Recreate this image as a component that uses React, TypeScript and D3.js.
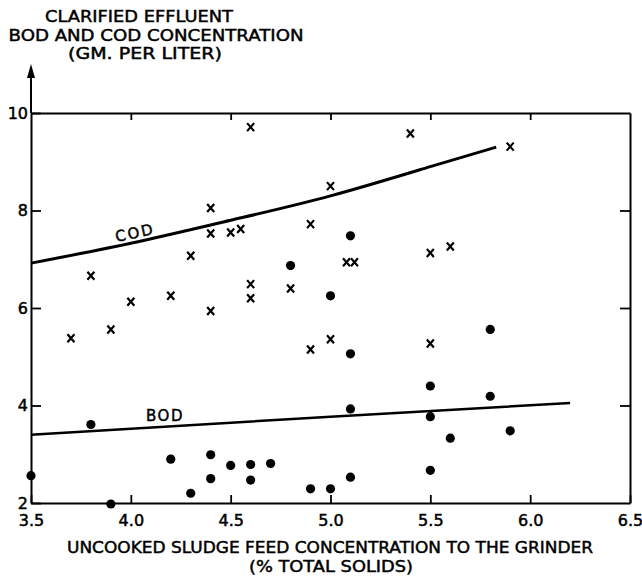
import { useEffect, useRef } from "react";
import * as d3 from "d3";

// feed concentration (% total solids) vs clarified effluent concentration (gm/l)
const codX = [3.7, 3.8, 3.9, 4.0, 4.2, 4.3, 4.4, 4.4, 4.4, 4.5, 4.55, 4.6, 4.6, 4.6, 4.8, 4.9, 4.9, 5.0, 5.0, 5.08, 5.12, 5.4, 5.5, 5.5, 5.6, 5.9];
const codY = [5.38, 6.66, 5.56, 6.13, 6.25, 7.07, 8.05, 7.53, 5.94, 7.55, 7.62, 9.71, 6.49, 6.2, 6.4, 7.72, 5.15, 8.5, 5.36, 6.94, 6.94, 9.58, 7.13, 5.27, 7.26, 9.31];

const bodX = [3.5, 3.8, 3.9, 4.2, 4.3, 4.4, 4.4, 4.5, 4.6, 4.6, 4.7, 4.8, 4.9, 5.0, 5.0, 5.1, 5.1, 5.1, 5.1, 5.5, 5.5, 5.5, 5.6, 5.8, 5.8, 5.9];
const bodY = [2.56, 3.61, 1.98, 2.9, 2.2, 2.99, 2.5, 2.77, 2.79, 2.47, 2.81, 6.87, 2.29, 6.25, 2.29, 7.48, 5.06, 3.93, 2.53, 4.4, 3.77, 2.67, 3.33, 5.56, 4.19, 3.48];

// fitted curves
const codCurveX = [3.5, 4.0, 4.5, 5.0, 5.5, 5.83];
const codCurveY = [6.92, 7.33, 7.8, 8.3, 8.9, 9.3];
const bodCurveX = [3.5, 5.0, 6.2];
const bodCurveY = [3.4, 3.77, 4.05];

const xTicks = [3.5, 4.0, 4.5, 5.0, 5.5, 6.0, 6.5];
const yTicks = [2, 4, 6, 8, 10];

const titleLines = ["CLARIFIED EFFLUENT", "BOD AND COD CONCENTRATION", "(GM. PER LITER)"];
const xTitleLines = ["UNCOOKED SLUDGE FEED CONCENTRATION TO THE GRINDER", "(% TOTAL SOLIDS)"];

const width = 642;
const height = 579;
const left = 31;
const right = 630;
const top = 113;
const bottom = 503;
const font = "'DejaVu Sans', sans-serif";

export default function App() {
  const gx = useRef<SVGGElement | null>(null);
  const gy = useRef<SVGGElement | null>(null);
  const gt = useRef<SVGGElement | null>(null);
  const gr = useRef<SVGGElement | null>(null);

  const x = d3.scaleLinear().domain([3.5, 6.5]).range([left, right]);
  const y = d3.scaleLinear().domain([2, 10]).range([bottom, top]);

  useEffect(() => {
    const style = (g: any) => {
      g.selectAll("path.domain").attr("stroke", "#000").attr("stroke-width", 2);
      g.selectAll(".tick line").attr("stroke", "#000").attr("stroke-width", 1.8);
      g.selectAll(".tick text")
        .attr("font-family", font)
        .attr("font-size", 16)
        .attr("fill", "#000")
        .attr("stroke", "#000")
        .attr("stroke-width", 0.5);
    };
    if (gx.current) {
      d3.select(gx.current)
        .call(d3.axisBottom(x).tickValues(xTicks).tickSizeInner(-8).tickSizeOuter(0).tickPadding(12).tickFormat(d3.format(".1f")))
        .call(style);
    }
    if (gy.current) {
      d3.select(gy.current)
        .call(d3.axisLeft(y).tickValues(yTicks).tickSizeInner(-10).tickSizeOuter(0).tickPadding(3).tickFormat(d3.format("d")))
        .call(style);
    }
    if (gt.current) {
      d3.select(gt.current)
        .call(d3.axisTop(x).tickValues(xTicks.slice(1, -1)).tickSizeInner(-7).tickSizeOuter(0).tickFormat(() => ""))
        .call(style);
    }
    if (gr.current) {
      d3.select(gr.current)
        .call(d3.axisRight(y).tickValues(yTicks.slice(1, -1)).tickSizeInner(-10).tickSizeOuter(0).tickFormat(() => ""))
        .call(style);
    }
  }, [x, y]);

  const line = d3
    .line<[number, number]>()
    .x((d) => x(d[0]))
    .y((d) => y(d[1]))
    .curve(d3.curveNatural);

  const codPath = line(codCurveX.map((v, i) => [v, codCurveY[i]]));
  const bodPath = line(bodCurveX.map((v, i) => [v, bodCurveY[i]]));

  return (
    <svg width={width} height={height} style={{ position: "absolute", left: 0, top: 0, background: "#fff" }}>
      <g fontFamily={font} fill="#000" stroke="#000" strokeWidth={0.45} fontSize={15}>
        <text x={139} y={22} textAnchor="middle" textLength={188} lengthAdjust="spacingAndGlyphs">{titleLines[0]}</text>
        <text x={156} y={41} textAnchor="middle" textLength={295} lengthAdjust="spacingAndGlyphs">{titleLines[1]}</text>
        <text x={145} y={59} textAnchor="middle" textLength={154} lengthAdjust="spacingAndGlyphs">{titleLines[2]}</text>
        <text x={330} y={553} textAnchor="middle" textLength={526} lengthAdjust="spacingAndGlyphs">{xTitleLines[0]}</text>
        <text x={331} y={572} textAnchor="middle" textLength={164} lengthAdjust="spacingAndGlyphs">{xTitleLines[1]}</text>
        <text x={135} y={238} fontSize={15} textAnchor="middle" letterSpacing={2} transform="rotate(-12,135,233)">COD</text>
        <text x={165} y={421} fontSize={15} textAnchor="middle" letterSpacing={1.5}>BOD</text>
      </g>

      {/* y axis arrow */}
      <line x1={left} x2={left} y1={top} y2={70} stroke="#000" strokeWidth={2} />
      <path d={`M${left},64 L${left - 4},78 L${left + 4},78 Z`} fill="#000" />

      <g ref={gt} transform={`translate(0,${top})`} />
      <g ref={gr} transform={`translate(${right},0)`} />
      <g ref={gx} transform={`translate(0,${bottom})`} />
      <g ref={gy} transform={`translate(${left},0)`} />

      <path d={codPath ?? ""} fill="none" stroke="#000" strokeWidth={3} />
      <path d={bodPath ?? ""} fill="none" stroke="#000" strokeWidth={2.5} />

      {codX.map((v, i) => (
        <path
          key={`c${i}`}
          d={`M${x(v) - 3.5},${y(codY[i]) - 4} L${x(v) + 3.5},${y(codY[i]) + 4} M${x(v) + 3.5},${y(codY[i]) - 4} L${x(v) - 3.5},${y(codY[i]) + 4}`}
          stroke="#000"
          strokeWidth={2.2}
        />
      ))}
      {bodX.map((v, i) => (
        <circle key={`b${i}`} cx={x(v)} cy={y(bodY[i])} r={4.6} fill="#000" />
      ))}
    </svg>
  );
}
